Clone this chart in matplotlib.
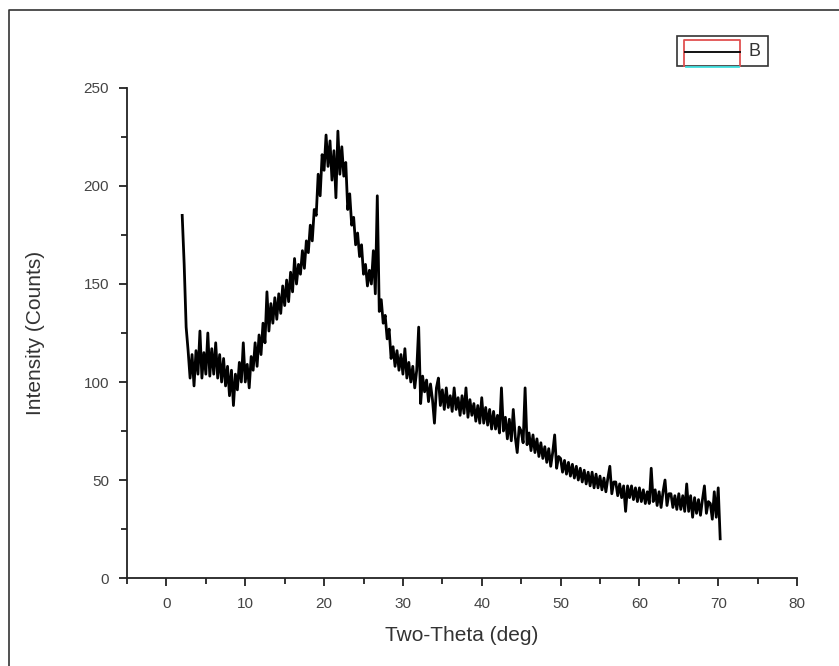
import numpy as np
import matplotlib
matplotlib.use("Agg")
import matplotlib.pyplot as plt
from matplotlib.patches import Rectangle
from matplotlib.lines import Line2D
from matplotlib.ticker import MultipleLocator

plt.rcParams['font.family'] = ['Liberation Sans', 'DejaVu Sans']

# XRD scan: 2-theta from 2.0 deg in 0.25 deg steps
theta_start = 2.0
theta_step = 0.25
counts = [
    185, 160, 128, 116,   # 2
    102, 114, 98, 116,    # 3
    104, 126, 102, 115,   # 4
    104, 125, 103, 117,   # 5
    104, 120, 102, 114,   # 6
    100, 112, 98, 108,    # 7
    93, 106, 88, 104,     # 8
    96, 110, 100, 120,    # 9
    100, 109, 97, 113,    # 10
    106, 120, 108, 124,   # 11
    114, 130, 120, 146,   # 12
    126, 140, 130, 143,   # 13
    132, 145, 135, 149,   # 14
    139, 152, 141, 156,   # 15
    146, 163, 150, 160,   # 16
    155, 167, 158, 172,   # 17
    166, 180, 172, 188,   # 18
    185, 206, 195, 216,   # 19
    208, 226, 210, 223,   # 20
    203, 218, 194, 228,   # 21
    206, 220, 205, 212,   # 22
    188, 196, 180, 184,   # 23
    170, 176, 164, 170,   # 24
    155, 160, 149, 157,   # 25
    150, 167, 145, 195,   # 26
    136, 142, 130, 134,   # 27
    122, 127, 112, 118,   # 28
    108, 116, 106, 114,   # 29
    104, 117, 102, 110,   # 30
    100, 108, 97, 106,    # 31
    128, 89, 103, 95,     # 32
    101, 90, 99, 91,      # 33
    79, 97, 102, 88,      # 34
    96, 86, 97, 87,       # 35
    93, 85, 97, 86,       # 36
    92, 83, 93, 84,       # 37
    97, 82, 91, 83,       # 38
    89, 80, 88, 79,       # 39
    92, 79, 87, 78,       # 40
    86, 76, 85, 76,       # 41
    83, 74, 97, 75,       # 42
    82, 71, 81, 70,       # 43
    86, 72, 64, 77,       # 44
    75, 69, 97, 68,       # 45
    74, 65, 73, 64,       # 46
    71, 62, 69, 61,       # 47
    67, 59, 66, 57,       # 48
    64, 73, 56, 62,       # 49
    61, 54, 60, 53,       # 50
    59, 52, 58, 51,       # 51
    57, 50, 56, 49,       # 52
    55, 48, 54, 47,       # 53
    54, 46, 53, 46,       # 54
    52, 45, 51, 44,       # 55
    51, 57, 43, 49,       # 56
    49, 42, 48, 41,       # 57
    47, 34, 47, 41,       # 58
    47, 40, 46, 39,       # 59
    46, 39, 45, 38,       # 60
    44, 38, 56, 39,       # 61
    45, 37, 44, 36,       # 62
    44, 50, 37, 43,       # 63
    43, 36, 42, 35,       # 64
    43, 35, 42, 34,       # 65
    48, 34, 42, 31,       # 66
    41, 33, 40, 32,       # 67
    40, 47, 33, 39,       # 68
    38, 30, 44, 31,       # 69
    46, 20,               # 70
]
two_theta = theta_start + theta_step * np.arange(len(counts))

x_ticks = [0, 10, 20, 30, 40, 50, 60, 70, 80]
y_ticks = [0, 50, 100, 150, 200, 250]
series_name = "B"

fig = plt.figure(figsize=(8.39, 6.66), dpi=100)
ax = fig.add_axes([0.1514, 0.1321, 0.7986, 0.7358])

ax.plot(two_theta, counts, color="black", lw=2.0, solid_joinstyle="round")

ax.set_xlim(-5, 80)
ax.set_ylim(0, 250)
ax.set_xticks(x_ticks)
ax.set_yticks(y_ticks)
ax.xaxis.set_minor_locator(MultipleLocator(5))
ax.yaxis.set_minor_locator(MultipleLocator(25))

for side in ("top", "right"):
    ax.spines[side].set_visible(False)
for side in ("left", "bottom"):
    ax.spines[side].set_linewidth(1.3)
    ax.spines[side].set_color("#222222")

ax.tick_params(which="major", direction="out", length=6, width=1.3,
               color="#222222", labelsize=11, labelcolor="#444444")
ax.tick_params(which="minor", direction="out", length=4, width=1.3,
               color="#222222")
ax.tick_params(axis="x", pad=8)
ax.tick_params(axis="y", pad=7)

ax.set_xlabel("Two-Theta (deg)", fontsize=15, color="#333333")
ax.set_ylabel("Intensity (Counts)", fontsize=15, color="#333333")
ax.xaxis.set_label_coords(0.5, -0.098)
ax.yaxis.set_label_coords(-0.122, 0.5)

# legend box drawn in figure pixels
W, H = 839, 666
def fx(px):
    return px / W
def fy(py):
    return 1 - py / H

fig.add_artist(Rectangle((fx(677), fy(66)), fx(768) - fx(677), fy(36) - fy(66),
                         transform=fig.transFigure, fill=False,
                         edgecolor="#333333", lw=1.2))
fig.add_artist(Line2D([fx(684), fx(684), fx(740), fx(740)],
                      [fy(66), fy(40), fy(40), fy(66)],
                      transform=fig.transFigure, color="#e05050", lw=1.3))
fig.add_artist(Line2D([fx(685), fx(740)], [fy(52), fy(52)],
                      transform=fig.transFigure, color="black", lw=1.3))
fig.add_artist(Line2D([fx(686), fx(739)], [fy(66.5), fy(66.5)],
                      transform=fig.transFigure, color="#40e0e0", lw=1.3))
fig.text(fx(754), fy(52), series_name, fontsize=13, color="#333333",
         ha="center", va="center")

# outer frame
fig.add_artist(Line2D([fx(9), fx(9), fx(839)], [fy(666), fy(10), fy(10)],
                      transform=fig.transFigure, color="#333333", lw=1.2))

fig.savefig("out.png", dpi=100)
